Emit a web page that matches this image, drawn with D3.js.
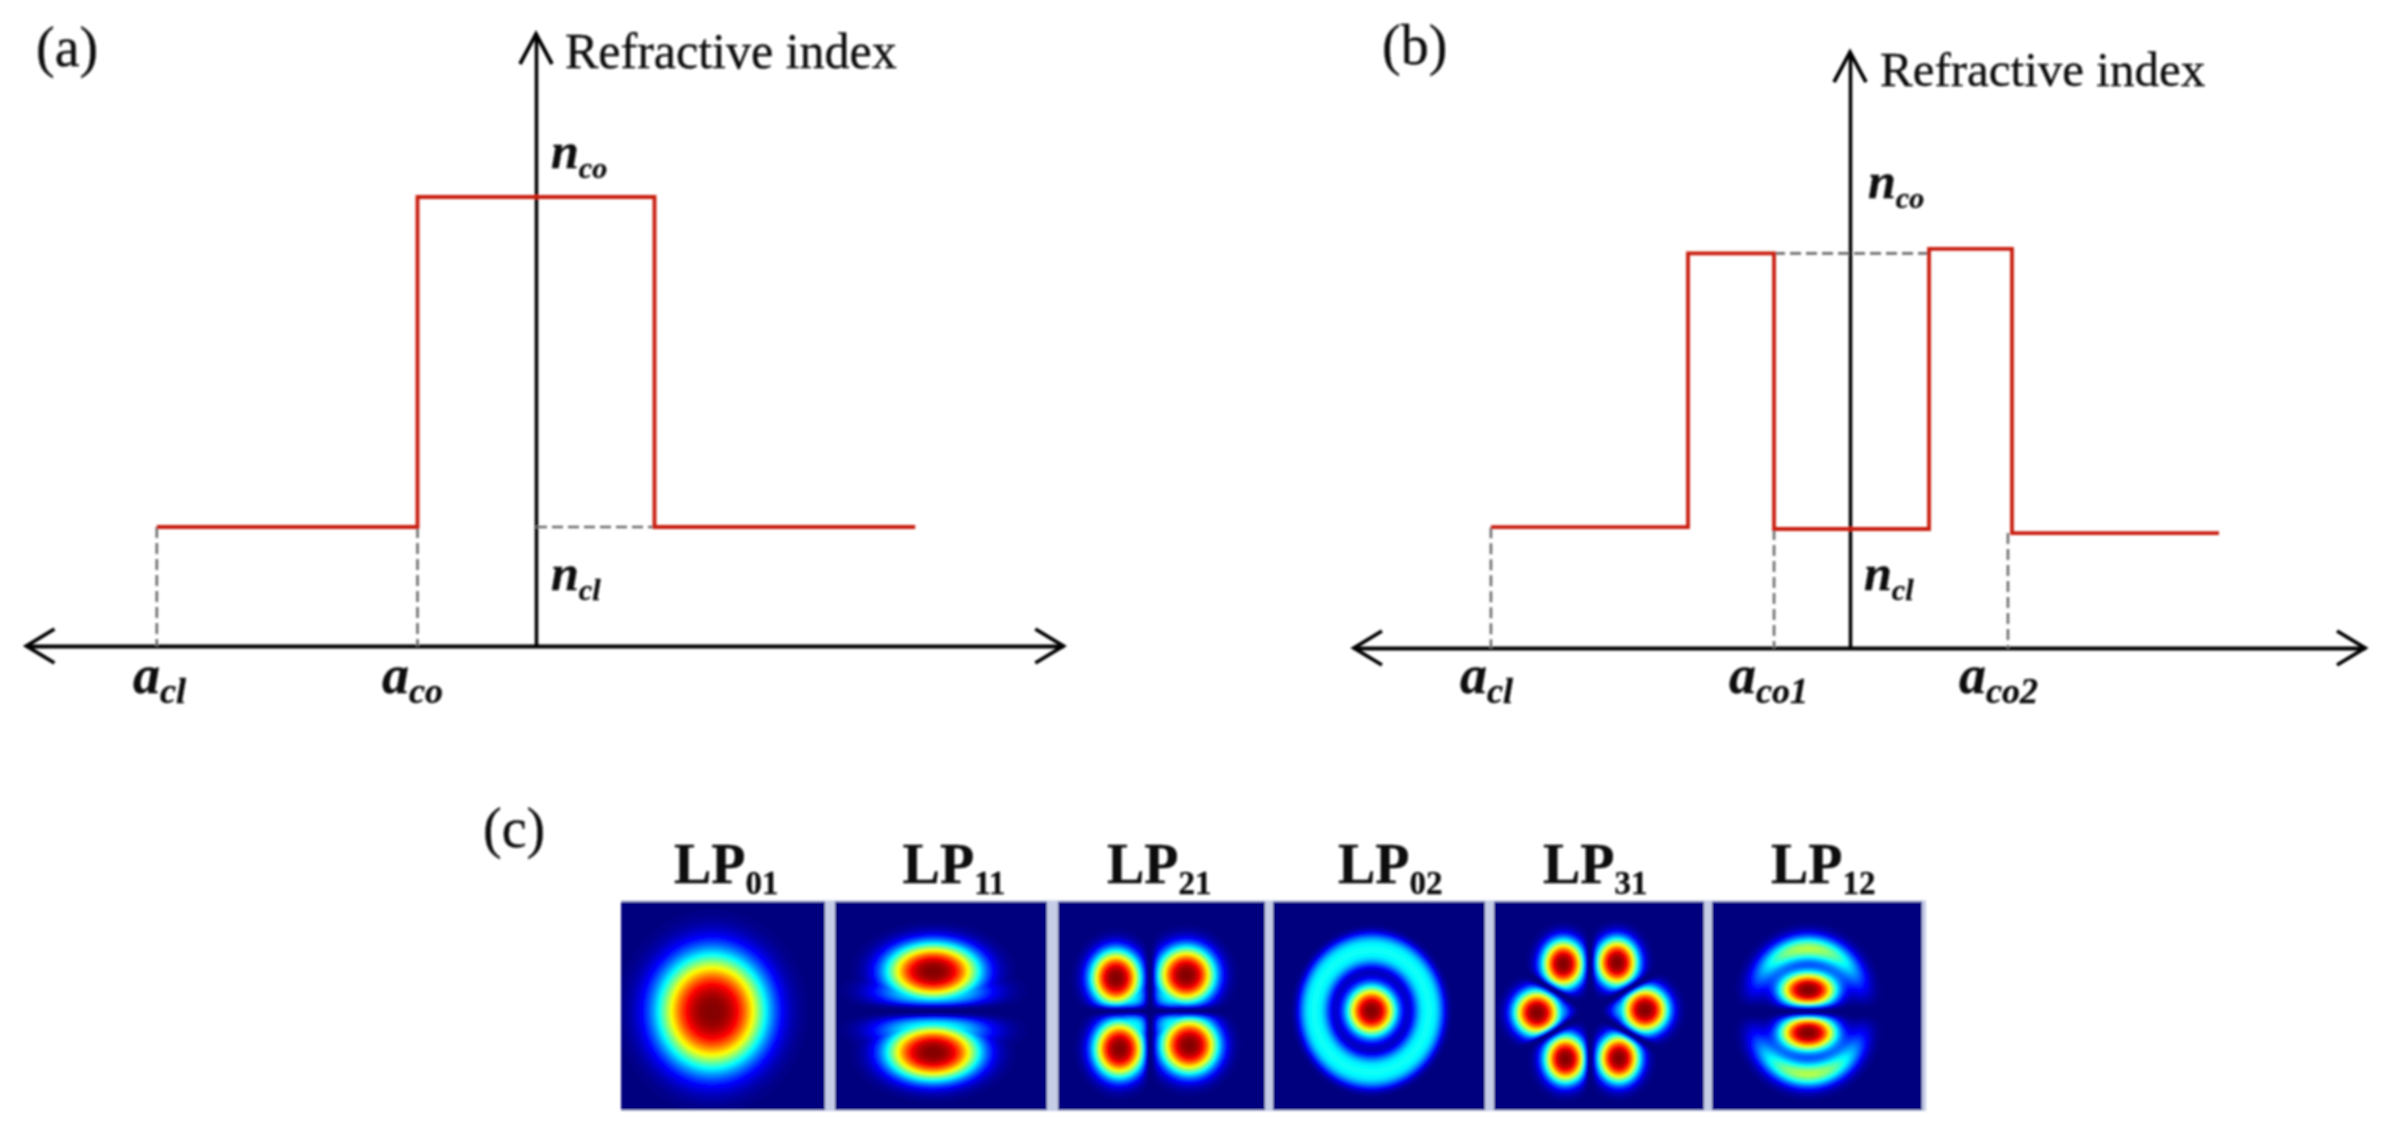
<!DOCTYPE html>
<html><head><meta charset="utf-8">
<script src="https://cdn.jsdelivr.net/npm/d3@7"></script>
<style>html,body{margin:0;background:#fff}svg{display:block}text{font-family:"Liberation Serif",serif;fill:#111;stroke:#111;stroke-width:.35}</style>
</head><body><svg id="c" width="2393" height="1131"></svg>
<script>
// Refractive index step profiles: radius (arb. units), index (arb. units)
const profileA = [[-3.2,.265],[-1,.265],[-1,1],[1,1],[1,.265],[3.2,.265]];
const profileB = [[-3.03,.269],[-1.367,.269],[-1.367,.879],[-.641,.879],[-.641,.265],[.667,.265],[.667,.889],[1.367,.889],[1.367,.256],[3.114,.256]];
const dropsA = [[-3.2,.265],[-1,.265]];
const dropsB = [[-3.03,.269],[-.641,.265],[1.333,.256]];
const levelA = [[0,.265],[1,.265]];
const levelB = [[-.641,.879],[.667,.879]];
const panelTags = ["(a)","(b)","(c)"];
// Mode names and lobes, in percent of each image
const modeNames = [["LP","01"],["LP","11"],["LP","21"],["LP","02"],["LP","31"],["LP","12"]];
// lobes: cx, cy, ax, ay, peak
const lobes01 = [[44.7,52.7,26.5,27.7,1]];
const lobes11 = [[46.3,33.5,22,13.5,1],[46.3,72.4,22,13.5,1],[46.3,43,27,8,.42],[46.3,62,27,8,.42]];
const lobes21 = [[28,36.7,12.2,13.4,1],[29.7,70.7,12.4,13.8,1],[62,35.3,14,13.6,1],[63.5,69,14,13.8,1],
                 [33,45,11,9,.4],[35,61,11,9,.4],[56,44,11,9,.4],[57,60,11,9,.4]];
const lobes02 = [[46.5,52.5,11.5,12,1]];
const lobes31 = [[33,30,10,11.6,1],[58.6,29.3,10,11.6,1],[72,52,11,11,1],[20.5,53.4,11,11,1],[34,75.5,10,11.6,1],[59.5,75.2,10,11.6,1],
                 [27,53,9,7,.4],[65,52,9,7,.4]];
const lobes12 = [[45.8,42.4,13.6,8.6,1],[45.8,63,13.6,8.6,1]];
// rings: cx, cy, rx, ry, relative width, peak, sharpness of the angular fade
const rings02 = [[46.5,52.5,27,29.3,.27,.385,0]];
const rings12 = [[45.8,52.7,27.5,30,.21,.56,1.4]];
// nodal lines: x, y, angle in degrees, half width
const nodes11 = [[46,52.5,0,3]];
const nodes21 = [[43.5,52.5,0,2.4],[44.5,52.5,90,2.4]];
const nodes31 = [[45.7,52.5,90,2.2],[45.7,52.5,30,2.2],[45.7,52.5,-30,2.2]];
const nodes12 = [[45.8,52.7,0,2.6]];
const modeLobes = [lobes01,lobes11,lobes21,lobes02,lobes31,lobes12];
const modeRings = [[],[],[],rings02,[],rings12];
const modeNodes = [[],nodes11,nodes21,[],nodes31,nodes12];

const svg = d3.select("#c");
const defs = svg.append("defs");
defs.append("filter").attr("id","soft").attr("x","-5%").attr("y","-5%").attr("width","110%").attr("height","110%")
  .append("feGaussianBlur").attr("stdDeviation",.8);
const root = svg.append("g").attr("filter","url(#soft)");

const ink="#050505", red="#c81e0c", dash="#6c6c6c";
function drawProfile(o){
  const g=root.append("g");
  const x=d3.scaleLinear().domain([-1,1]).range([o.cx-118.5,o.cx+118.5]);
  const y=d3.scaleLinear().domain([0,1]).range([o.base,o.base-449]);
  const line=d3.line().x(d=>x(d[0])).y(d=>y(d[1]));
  const xAxis=d3.axisBottom(x.copy().domain(o.xExt).range(o.xExt.map(x))).tickValues([]).tickSizeOuter(0);
  g.append("g").attr("transform",`translate(0,${y(0)})`).call(xAxis)
    .select(".domain").attr("stroke",ink).attr("stroke-width",3.8);
  const yAxis=d3.axisLeft(y.copy().domain([0,o.yTop]).range([y(0),y(o.yTop)])).tickValues([]).tickSizeOuter(0);
  g.append("g").attr("transform",`translate(${x(0)},0)`).call(yAxis)
    .select(".domain").attr("stroke",ink).attr("stroke-width",3.6);
  const head=(tx,ty,dx,dy,w,l)=>g.append("path").attr("fill","none").attr("stroke",ink).attr("stroke-width",3.8)
    .attr("d",d3.line()([[tx+dx*l-dy*w,ty+dy*l-dx*w],[tx,ty],[tx+dx*l+dy*w,ty+dy*l+dx*w]]));
  head(x(o.xExt[0]),y(0),1,0,17,28);
  head(x(o.xExt[1]),y(0),-1,0,17,28);
  head(x(0),y(o.yTop),0,1,16,30);
  const dashed=d=>g.append("path").attr("fill","none").attr("stroke",dash).attr("stroke-width",2.6).attr("stroke-dasharray","11 5").attr("d",line(d));
  o.drops.forEach(d=>dashed([d,[d[0],0]]));
  dashed(o.level);
  g.append("path").attr("fill","none").attr("stroke",red).attr("stroke-width",3.8).attr("stroke-linejoin","miter").attr("d",line(o.profile));
}
drawProfile({cx:536,base:646,xExt:[-4.3,4.45],yTop:1.363,profile:profileA,drops:dropsA,level:levelA});
drawProfile({cx:1850,base:648,xExt:[-4.186,4.346],yTop:1.327,profile:profileB,drops:dropsB,level:levelB});

function label(tx,ty,main,sub,size,subSize,opts={}){
  const t=root.append("text").attr("x",tx).attr("y",ty).attr("font-size",size)
    .attr("font-weight",opts.weight||"bold").attr("font-style",opts.style||"italic");
  t.append("tspan").text(main);
  if(sub) t.append("tspan").attr("dy",opts.drop||10).attr("font-size",subSize).text(sub);
}
const plain={weight:"normal",style:"normal"};
[[36,66],[1382,64],[483,847]].forEach((p,i)=>label(p[0],p[1],panelTags[i],"",56,0,plain));
label(565,68,"Refractive index","",50,0,plain);
label(1880,86,"Refractive index","",49,0,plain);
label(551,168,"n","co",50,30);
label(551,590,"n","cl",50,30);
label(1868,198,"n","co",50,30);
label(1864,590,"n","cl",50,30);
label(133,693,"a","cl",54,36);
label(382,693,"a","co",54,36);
label(1460,693,"a","cl",54,36);
label(1729,693,"a","co1",54,36);
label(1959,693,"a","co2",54,36);

const panelEdges=[[621,825],[835,1047],[1058,1265],[1273,1485],[1494,1704],[1712,1922]];
const labelX=[674,902.6,1107,1338,1543,1771];
const imgTop=901.5,imgBottom=1110;
const jet=d3.scaleLinear().domain([0,.125,.375,.625,.875,1])
  .range(["#00007f","#0000ff","#00ffff","#ffff00","#ff0000","#7f0000"]).clamp(true);
const N=110;
root.append("rect").attr("x",621).attr("y",imgTop-1).attr("width",1926-621).attr("height",imgBottom-imgTop+2).attr("fill","#c4cce6");
function modeValue(i,px,py){
  let v=0;
  for(const [cx,cy,ax,ay,p] of modeLobes[i]){
    const r=Math.hypot((px-cx)/ax,(py-cy)/ay);
    v=Math.max(v,p*Math.exp(-Math.pow(r,2.7)));
  }
  for(const [cx,cy,rx,ry,w,p,k] of modeRings[i]){
    const dx=(px-cx)/rx, dy=(py-cy)/ry, r=Math.hypot(dx,dy);
    const t=(r-1)/w, ang=k&&r>0?Math.pow(Math.abs(dy)/r,k):1;
    v+=p*ang*Math.exp(k?-t*t:-Math.pow(Math.abs(t),3.2));
  }
  for(const [nx,ny,a,w] of modeNodes[i]){
    const ca=Math.cos(a*Math.PI/180), sa=Math.sin(a*Math.PI/180);
    const d=(px-nx)*sa-(py-ny)*ca;
    v*=1-Math.exp(-(d*d)/(w*w));
  }
  return Math.min(v,1);
}
const thresholds=d3.range(.01,1,.012);
modeNames.forEach((nm,i)=>{
  const [x0,x1]=panelEdges[i];
  const xs=d3.scaleLinear().domain([0,N]).range([x0,x1]);
  const ys=d3.scaleLinear().domain([0,N]).range([imgTop,imgBottom]);
  const vals=new Array(N*N);
  for(let r=0;r<N;r++)for(let c=0;c<N;c++)vals[r*N+c]=modeValue(i,(c+.5)/N*100,(r+.5)/N*100);
  const contours=d3.contours().size([N,N]).thresholds(thresholds)(vals);
  const path=d3.geoPath(d3.geoTransform({point(a,b){this.stream.point(xs(a),ys(b));}}));
  const clip="pc"+i;
  defs.append("clipPath").attr("id",clip).append("rect").attr("x",x0).attr("y",imgTop).attr("width",x1-x0).attr("height",imgBottom-imgTop);
  const g=root.append("g").attr("clip-path",`url(#${clip})`);
  g.append("rect").attr("x",x0).attr("y",imgTop).attr("width",x1-x0).attr("height",imgBottom-imgTop).attr("fill",jet(0));
  g.selectAll("path").data(contours).join("path").attr("d",path).attr("fill",d=>jet(d.value));
  label(labelX[i],883,nm[0],nm[1],56,33,{style:"normal",drop:11});
});
</script></body></html>
